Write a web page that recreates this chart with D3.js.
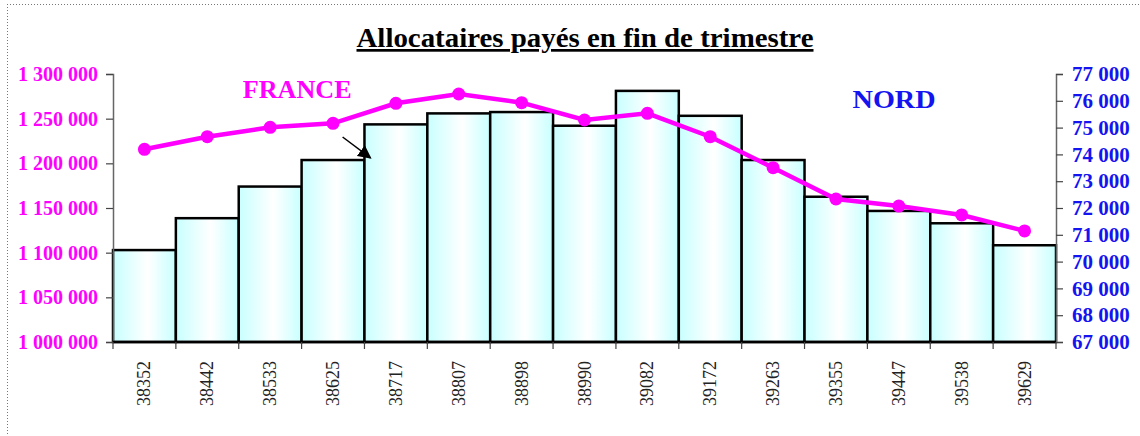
<!DOCTYPE html>
<html>
<head>
<meta charset="utf-8">
<script src="https://cdn.jsdelivr.net/npm/d3@7"></script>
<style>
    body { margin: 0; background: #fff; }
    svg { display: block; }
</style>
</head>
<body>
<div id="chart"></div>
<script>
// quarters (Excel serial dates, as shown on the axis)
var quarters = ["38352", "38442", "38533", "38625", "38717", "38807", "38898", "38990",
    "39082", "39172", "39263", "39355", "39447", "39538", "39629"];

// FRANCE (line, left axis)
var france = [1215700, 1229800, 1240300, 1244800, 1267200, 1277600, 1267900, 1248500,
    1256000, 1229800, 1195100, 1160100, 1152200, 1142200, 1124300];

// NORD (bars, right axis)
var nord = [70430, 71620, 72800, 73790, 75120, 75530, 75580, 75070,
    76370, 75440, 73790, 72420, 71890, 71430, 70610];

var leftTicks = [1000000, 1050000, 1100000, 1150000, 1200000, 1250000, 1300000];
var rightTicks = [67000, 68000, 69000, 70000, 71000, 72000, 73000, 74000, 75000, 76000, 77000];

function makeChart() {
    var W = 1140,
        H = 436,
        margin = { top: 74, right: 84, bottom: 94, left: 113 },
        width = W - margin.left - margin.right,
        height = H - margin.top - margin.bottom;

    var fmt = (v) => d3.format(",")(v).replace(/,/g, " ");
    var serif = "'Liberation Serif', 'Times New Roman', serif";
    var magenta = "#ff00ff";
    var blue = "#1414f0";

    var root = d3
        .select("#chart")
        .append("svg")
        .attr("width", W)
        .attr("height", H);

    var defs = root.append("defs");
    var grad = defs.append("linearGradient").attr("id", "barGrad").attr("x1", "0").attr("x2", "1").attr("y1", "0").attr("y2", "0");
    grad.append("stop").attr("offset", "0").attr("stop-color", "#c8ffff");
    grad.append("stop").attr("offset", "0.55").attr("stop-color", "#ffffff");
    grad.append("stop").attr("offset", "1").attr("stop-color", "#c8ffff");

    defs.append("marker")
        .attr("id", "arrowHead")
        .attr("viewBox", "0 0 10 10")
        .attr("refX", 9)
        .attr("refY", 5)
        .attr("markerWidth", 9)
        .attr("markerHeight", 9)
        .attr("markerUnits", "strokeWidth")
        .attr("orient", "auto")
        .append("path")
        .attr("d", "M0,0 L10,5 L0,10 z")
        .attr("fill", "#000");

    // dotted frame (top and left edges)
    root.append("line").attr("x1", 7).attr("x2", W).attr("y1", 4.5).attr("y2", 4.5)
        .attr("stroke", "#777").attr("stroke-dasharray", "1,2");
    root.append("line").attr("x1", 7.5).attr("x2", 7.5).attr("y1", 4).attr("y2", H)
        .attr("stroke", "#777").attr("stroke-dasharray", "1,2");

    root.append("text")
        .attr("x", 585)
        .attr("y", 47)
        .attr("text-anchor", "middle")
        .attr("textLength", 457)
        .attr("lengthAdjust", "spacingAndGlyphs")
        .style("font-family", serif)
        .style("font-weight", "bold")
        .style("font-size", "27px")
        .style("text-decoration", "underline")
        .attr("fill", "#000")
        .text("Allocataires payés en fin de trimestre");

    var svg = root.append("g").attr("transform", "translate(" + margin.left + "," + margin.top + ")");

    var x = d3.scaleBand().domain(quarters).range([0, width]).padding(0);
    var yL = d3.scaleLinear().domain([1000000, 1300000]).range([height, 0]);
    var yR = d3.scaleLinear().domain([67000, 77000]).range([height, 0]);

    // bars: NORD
    svg.selectAll(".bar")
        .data(nord)
        .enter()
        .append("rect")
        .attr("class", "bar")
        .attr("x", (d, i) => x(quarters[i]))
        .attr("y", (d) => yR(d))
        .attr("width", x.bandwidth())
        .attr("height", (d) => height - yR(d))
        .attr("fill", "url(#barGrad)")
        .attr("stroke", "#000")
        .attr("stroke-width", 2.5);

    // left axis
    var axL = svg.append("g")
        .call(d3.axisLeft(yL).tickValues(leftTicks).tickSize(7).tickFormat(fmt).tickPadding(8));
    axL.select(".domain").attr("stroke", "#666").attr("stroke-width", 1.5);
    axL.selectAll(".tick line").attr("stroke", "#444").attr("stroke-width", 1.2);
    axL.selectAll("text")
        .attr("fill", magenta)
        .style("font-family", serif)
        .style("font-weight", "bold")
        .style("font-size", "20px");

    // right axis
    var axR = svg.append("g")
        .attr("transform", "translate(" + width + ",0)")
        .call(d3.axisRight(yR).tickValues(rightTicks).tickSize(7).tickFormat(fmt).tickPadding(9));
    axR.select(".domain").attr("stroke", "#666").attr("stroke-width", 1.5);
    axR.selectAll(".tick line").attr("stroke", "#444").attr("stroke-width", 1.2);
    axR.selectAll("text")
        .attr("fill", blue)
        .style("font-family", serif)
        .style("font-weight", "bold")
        .style("font-size", "21px");

    // bottom axis, ticks on category boundaries
    var xb = svg.append("g").attr("transform", "translate(0," + height + ")");
    xb.append("line").attr("x1", 0).attr("x2", width).attr("stroke", "#000").attr("stroke-width", 2.5);
    xb.selectAll(".bt")
        .data(quarters.concat(["end"]))
        .enter()
        .append("line")
        .attr("x1", (d, i) => i * x.step())
        .attr("x2", (d, i) => i * x.step())
        .attr("y1", 0)
        .attr("y2", 7)
        .attr("stroke", "#444")
        .attr("stroke-width", 1.2);
    xb.selectAll(".bl")
        .data(quarters)
        .enter()
        .append("text")
        .attr("transform", (d) => "translate(" + (x(d) + x.bandwidth() / 2 + 6) + ",19) rotate(-90)")
        .attr("text-anchor", "end")
        .style("font-family", serif)
        .style("font-size", "18px")
        .attr("fill", "#222")
        .text((d) => d);

    // line: FRANCE
    var line = d3.line()
        .x((d, i) => x(quarters[i]) + x.bandwidth() / 2)
        .y((d) => yL(d));
    svg.append("path")
        .datum(france)
        .attr("fill", "none")
        .attr("stroke", magenta)
        .attr("stroke-width", 4.5)
        .attr("d", line);
    svg.selectAll(".dot")
        .data(france)
        .enter()
        .append("circle")
        .attr("cx", (d, i) => x(quarters[i]) + x.bandwidth() / 2)
        .attr("cy", (d) => yL(d))
        .attr("r", 6.5)
        .attr("fill", magenta);

    // labels
    svg.append("text")
        .attr("x", x(quarters[2]) + 4)
        .attr("y", yL(1301000) + 25)
        .attr("textLength", 109)
        .attr("lengthAdjust", "spacingAndGlyphs")
        .style("font-family", serif)
        .style("font-weight", "bold")
        .style("font-size", "26px")
        .attr("fill", magenta)
        .text("FRANCE");
    svg.append("text")
        .attr("x", x(quarters[11]) + 48)
        .attr("y", yR(77000) + 34)
        .attr("textLength", 83)
        .attr("lengthAdjust", "spacingAndGlyphs")
        .style("font-family", serif)
        .style("font-weight", "bold")
        .style("font-size", "26px")
        .attr("fill", blue)
        .text("NORD");

    // arrow
    svg.append("line")
        .attr("x1", x(quarters[3]) + 41)
        .attr("y1", yL(1229500))
        .attr("x2", x(quarters[4]) + 6)
        .attr("y2", yL(1206000))
        .attr("stroke", "#000")
        .attr("stroke-width", 1.5)
        .attr("marker-end", "url(#arrowHead)");
}

makeChart();
</script>
</body>
</html>
